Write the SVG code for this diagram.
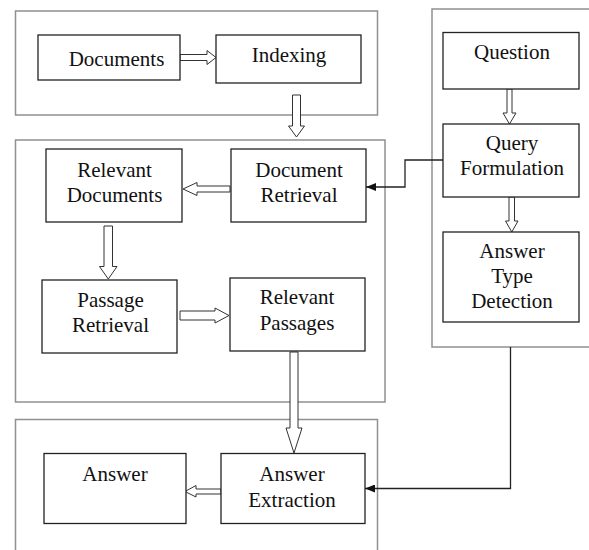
<svg xmlns="http://www.w3.org/2000/svg" width="589" height="550" viewBox="0 0 589 550">
<style>
.outer{fill:none;stroke:#909090;stroke-width:1.5}
.box{fill:#fff;stroke:#222;stroke-width:1.3}
.hollow{fill:#fff;stroke:#333;stroke-width:1}
.line{fill:none;stroke:#222;stroke-width:1.3}
</style>
<defs>
<marker id="ah" markerWidth="10" markerHeight="8" refX="10" refY="4" orient="auto" markerUnits="userSpaceOnUse">
<path d="M0,0 L10,4 L0,8 Z" fill="#111"/>
</marker>
</defs>
<rect width="589" height="550" fill="#fff"/>
<g id="containers">
<rect class="outer" x="15.5" y="11" width="362" height="104"/>
<rect class="outer" x="15.5" y="140" width="369.5" height="262"/>
<rect class="outer" x="15.5" y="419.5" width="362" height="140"/>
<rect class="outer" x="432" y="9" width="170" height="338"/>
</g>
<g id="connectors">
<polygon class="hollow" points="180,54.5 207,54.5 207,50.5 216,57.5 207,64.5 207,60.5 180,60.5"/>
<polygon class="hollow" points="292.5,95 300.5,95 300.5,126 304.5,126 296.5,137 288.5,126 292.5,126"/>
<polygon class="hollow" points="507,89 512,89 512,113 516,113 509.5,124 503,113 507,113"/>
<polygon class="hollow" points="509,197 514.5,197 514.5,221 518,221 511.8,232 505.5,221 509,221"/>
<polygon class="hollow" points="230,186 197,186 197,182.5 183,189 197,195.5 197,192 230,192"/>
<polygon class="hollow" points="104,226 112.5,226 112.5,266.5 117,266.5 108.3,279 99.5,266.5 104,266.5"/>
<polygon class="hollow" points="180,311 215,311 215,308 229,315.5 215,323 215,320 180,320"/>
<polygon class="hollow" points="290,352 298,352 298,428 302,428 294,453 286,428 290,428"/>
<polygon class="hollow" points="221,489 196,489 196,485.5 185,491.5 196,497 196,494 221,494"/>
<path class="line" d="M443,160 H405 V187 H366" marker-end="url(#ah)"/>
<path class="line" d="M510.5,347 V488.5 H365" marker-end="url(#ah)"/>
</g>
<g id="documents"><rect class="box" x="38" y="35" width="142" height="45"/><text font-family="Liberation Serif" font-size="21" text-anchor="middle" fill="#111" x="116.5" y="66">Documents</text></g>
<g id="indexing"><rect class="box" x="216" y="35" width="145" height="48"/><text font-family="Liberation Serif" font-size="21" text-anchor="middle" fill="#111" x="289" y="62">Indexing</text></g>
<g id="question"><rect class="box" x="443" y="32.5" width="136" height="56.5"/><text font-family="Liberation Serif" font-size="21" text-anchor="middle" fill="#111" x="512" y="59">Question</text></g>
<g id="query-formulation"><rect class="box" x="443" y="124" width="136" height="73"/><text font-family="Liberation Serif" font-size="21" text-anchor="middle" fill="#111" x="512" y="150">Query</text><text font-family="Liberation Serif" font-size="21" text-anchor="middle" fill="#111" x="512" y="175">Formulation</text></g>
<g id="answer-type-detection"><rect class="box" x="443" y="232" width="136" height="90"/><text font-family="Liberation Serif" font-size="21" text-anchor="middle" fill="#111" x="512" y="258">Answer</text><text font-family="Liberation Serif" font-size="21" text-anchor="middle" fill="#111" x="512" y="283">Type</text><text font-family="Liberation Serif" font-size="21" text-anchor="middle" fill="#111" x="512" y="308">Detection</text></g>
<g id="relevant-documents"><rect class="box" x="46" y="149" width="136" height="73"/><text font-family="Liberation Serif" font-size="21" text-anchor="middle" fill="#111" x="114.5" y="177">Relevant</text><text font-family="Liberation Serif" font-size="21" text-anchor="middle" fill="#111" x="114.5" y="202">Documents</text></g>
<g id="document-retrieval"><rect class="box" x="231" y="149" width="135" height="73"/><text font-family="Liberation Serif" font-size="21" text-anchor="middle" fill="#111" x="299" y="177">Document</text><text font-family="Liberation Serif" font-size="21" text-anchor="middle" fill="#111" x="299" y="202">Retrieval</text></g>
<g id="passage-retrieval"><rect class="box" x="42" y="280" width="135" height="73"/><text font-family="Liberation Serif" font-size="21" text-anchor="middle" fill="#111" x="110.5" y="307">Passage</text><text font-family="Liberation Serif" font-size="21" text-anchor="middle" fill="#111" x="110.5" y="332">Retrieval</text></g>
<g id="relevant-passages"><rect class="box" x="230" y="278" width="135" height="73"/><text font-family="Liberation Serif" font-size="21" text-anchor="middle" fill="#111" x="297" y="304">Relevant</text><text font-family="Liberation Serif" font-size="21" text-anchor="middle" fill="#111" x="297" y="330">Passages</text></g>
<g id="answer"><rect class="box" x="44" y="453.5" width="142" height="70"/><text font-family="Liberation Serif" font-size="21" text-anchor="middle" fill="#111" x="115" y="481">Answer</text></g>
<g id="answer-extraction"><rect class="box" x="221" y="453.5" width="144" height="70"/><text font-family="Liberation Serif" font-size="21" text-anchor="middle" fill="#111" x="292" y="481">Answer</text><text font-family="Liberation Serif" font-size="21" text-anchor="middle" fill="#111" x="292" y="507">Extraction</text></g>
</svg>
